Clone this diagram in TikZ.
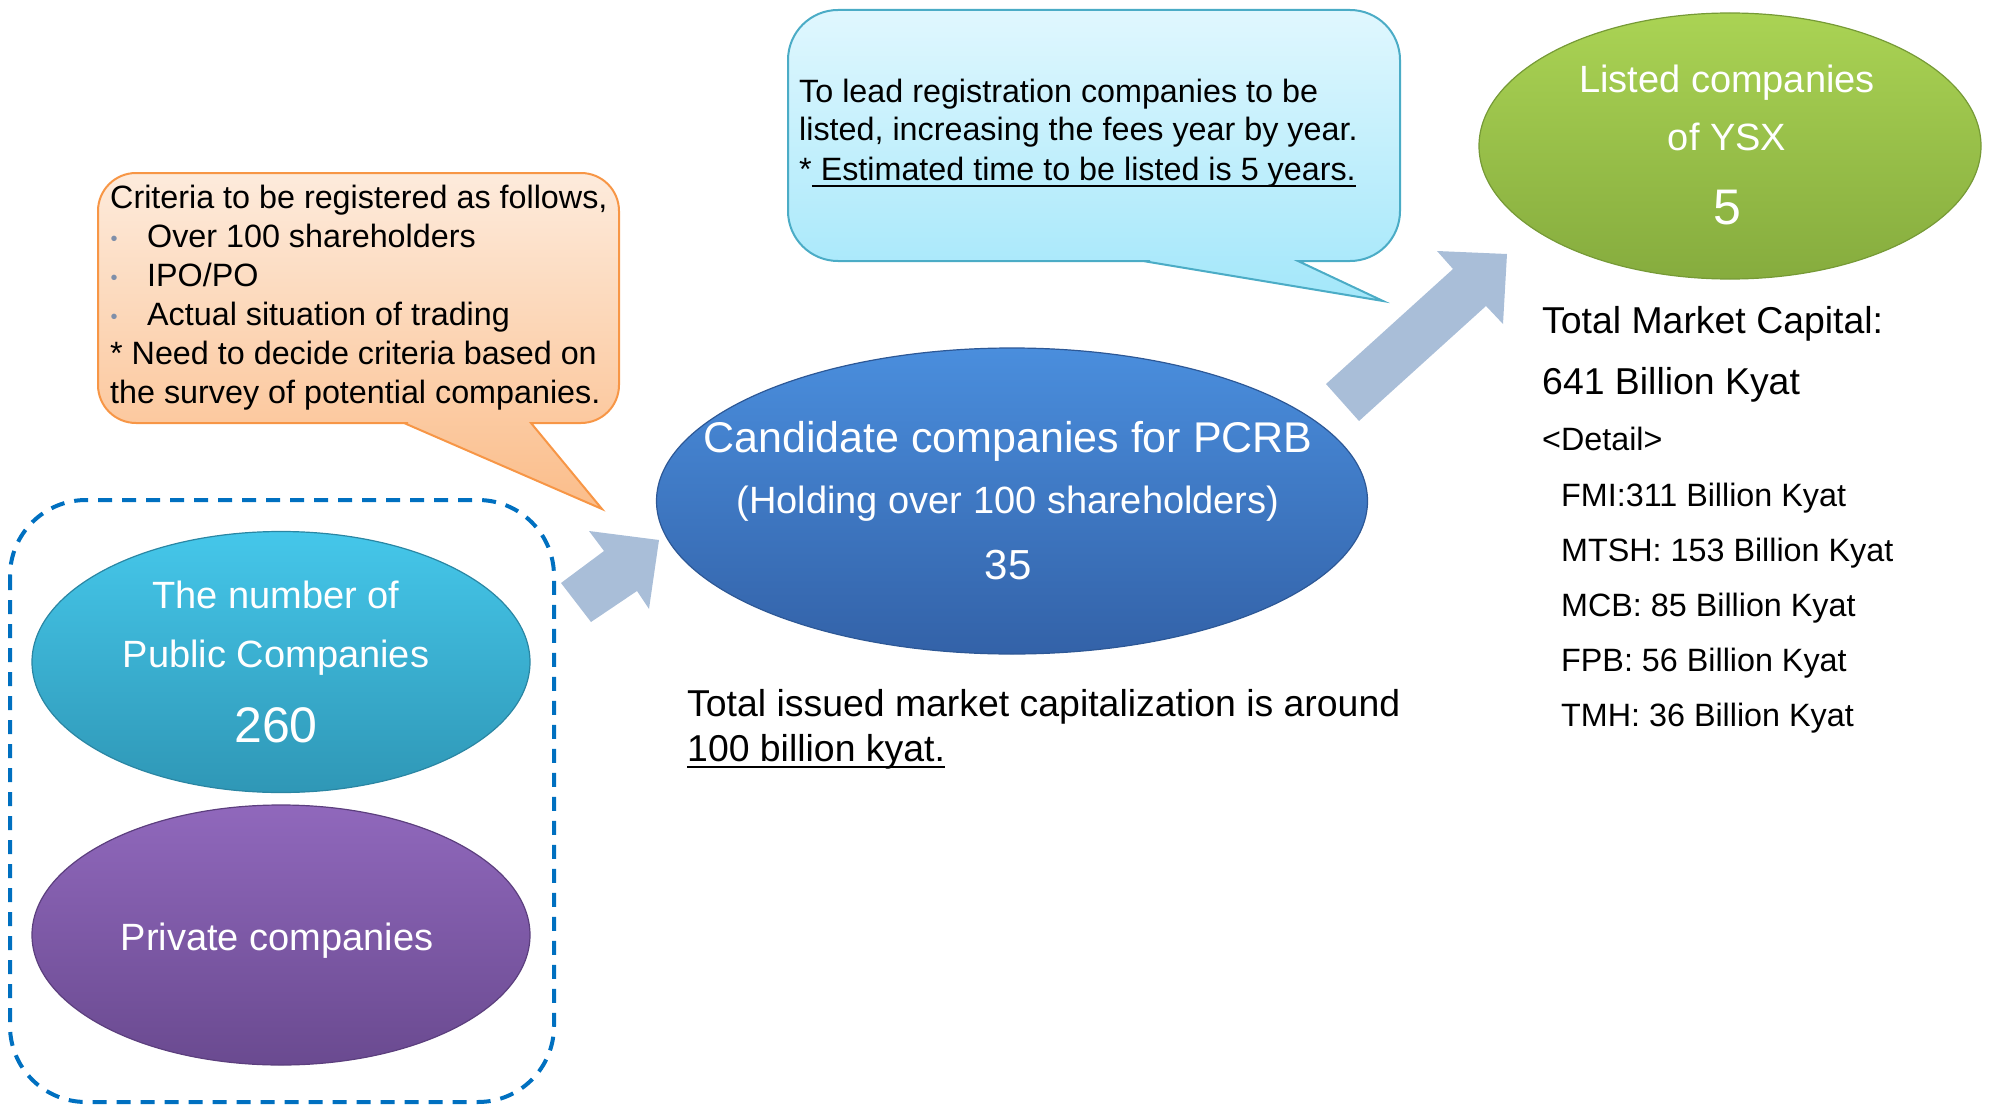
\documentclass[tikz,border=0pt]{standalone}
\usepackage{fontspec}
\setmainfont{Liberation Sans}
\usetikzlibrary{shapes.geometric}
\definecolor{cyanT}{HTML}{45C7EA}
\definecolor{cyanB}{HTML}{2F97B6}
\definecolor{cyanD}{HTML}{2A86A3}
\definecolor{purT}{HTML}{9068BC}
\definecolor{purB}{HTML}{6A4A90}
\definecolor{purD}{HTML}{5C3F7E}
\definecolor{bluT}{HTML}{4A8EDD}
\definecolor{bluB}{HTML}{3362A8}
\definecolor{bluD}{HTML}{2D5896}
\definecolor{grnT}{HTML}{AAD354}
\definecolor{grnB}{HTML}{86AC3E}
\definecolor{grnD}{HTML}{769A36}
\definecolor{orT}{HTML}{FDEBDC}
\definecolor{orB}{HTML}{FBBD8A}
\definecolor{orD}{HTML}{F79646}
\definecolor{lbT}{HTML}{E0F7FE}
\definecolor{lbB}{HTML}{A3E7FA}
\definecolor{lbD}{HTML}{4BACC6}
\definecolor{arrC}{HTML}{A9BED8}
\definecolor{dashC}{HTML}{0070C0}
\definecolor{bulC}{HTML}{7F8FA9}
\newcommand\myul[1]{\sbox0{#1}\rlap{\rule[-7pt]{\wd0}{2.2pt}}\usebox0}
\begin{document}
\begin{tikzpicture}[x=1pt,y=-1pt,
  txt/.style={anchor=base west,inner sep=0pt,font=\fontsize{32.3}{38}\selectfont},
  big/.style={anchor=base west,inner sep=0pt,font=\fontsize{37.4}{44}\selectfont},
  wtxt/.style={anchor=base,inner sep=0pt,text=white,font=\fontsize{38}{44}\selectfont},
  wnum/.style={anchor=base,inner sep=0pt,text=white,font=\fontsize{50}{56}\selectfont},
  oval/.style={ellipse,inner sep=0pt,line width=1.2pt,shading=axis},
  blockarrow/.style={fill=arrC,draw=none},
  bul/.style={anchor=base,inner sep=0pt,text=bulC,font=\fontsize{20}{20}\selectfont}]
\useasboundingbox (0,0) rectangle (1992,1105);

% dashed group box
\draw[dashC,line width=4pt,dash pattern=on 14pt off 10pt,rounded corners=76pt]
  (10,500) rectangle (554,1102);

% block arrows
\fill[blockarrow] (561,583) -- (604,551) -- (589,531) -- (659,540) -- (649,609) -- (637,591) -- (591,622) -- cycle;
\fill[blockarrow] (1326,384) -- (1453,269) -- (1437,251) -- (1507,254) -- (1503,324) -- (1486,306) -- (1359,421) -- cycle;

% ovals
\node[oval,minimum width=498pt,minimum height=261pt,top color=cyanT,bottom color=cyanB,draw=cyanD] (pub) at (281,662) {};
\node[oval,minimum width=498pt,minimum height=260pt,top color=purT,bottom color=purB,draw=purD] (priv) at (281,935) {};
\node[oval,minimum width=711pt,minimum height=306pt,top color=bluT,bottom color=bluB,draw=bluD] (cand) at (1012,501) {};
\node[oval,minimum width=502pt,minimum height=266pt,top color=grnT,bottom color=grnB,draw=grnD] (lst) at (1730,146) {};

% oval texts
\node[wtxt] (pub1) at (276,608) {The number of};
\node[wtxt] (pub2) at (276,667) {Public Companies};
\node[wnum] (pub3) at (276,742) {260};
\node[wtxt] (priv1) at (277,950) {Private companies};
\node[wtxt,font=\fontsize{43}{48}\selectfont] (cand1) at (1008,452) {Candidate companies for PCRB};
\node[wtxt] (cand2) at (1008,513) {(Holding over 100 shareholders)};
\node[wtxt,font=\fontsize{42}{48}\selectfont] (cand3) at (1008,579) {35};
\node[wtxt] (lst1) at (1727,93) {Listed companies};
\node[wtxt] (lst2) at (1727,150) {of YSX};
\node[wnum] (lst3) at (1727,224) {5};

% orange callout
\draw[orD,line width=2pt,shading=axis,top color=orT,bottom color=orB]
  (404,423) -- (602,509) -- (531,423) -- (560,423) [rounded corners=38pt] -- (619,423) -- (619,173) -- (98,173) -- (98,423) -- (370,423) [sharp corners] -- cycle;
\node[txt] (c1) at (110,208) {Criteria to be registered as follows,};
\node[bul] (b1) at (114,245) {•};
\node[txt] (c2) at (147,247) {Over 100 shareholders};
\node[bul] (b2) at (114,284) {•};
\node[txt] (c3) at (147,286) {IPO/PO};
\node[bul] (b3) at (114,323) {•};
\node[txt] (c4) at (147,325) {Actual situation of trading};
\node[txt] (c5) at (110,364) {* Need to decide criteria based on};
\node[txt] (c6) at (110,403) {the survey of potential companies.};

% light blue callout
\draw[lbD,line width=2pt,shading=axis,top color=lbT,bottom color=lbB]
  (1143,261) -- (1383,301) -- (1298,261) -- (1320,261) [rounded corners=50pt] -- (1400,261) -- (1400,10) -- (788,10) -- (788,261) -- (1100,261) [sharp corners] -- cycle;
\node[txt] (t1) at (799,103) {To lead registration companies to be};
\node[txt] (t2) at (799,141) {listed, increasing the fees year by year.};
\node[txt] (t3) at (799,180) {*\myul{\ Estimated time to be listed is 5 years.}};

% text under candidate oval
\node[big] (tot1) at (687,716) {Total issued market capitalization is around};
\node[big] (tot2) at (687,761) {\myul{100 billion kyat.}};

% right text
\node[big] (m1) at (1542,333) {Total Market Capital:};
\node[big] (m2) at (1542,394) {641 Billion Kyat};
\node[txt] (d0) at (1542,450) {<Detail>};
\node[txt] (d1) at (1561,506) {FMI:311 Billion Kyat};
\node[txt] (d2) at (1561,561) {MTSH: 153 Billion Kyat};
\node[txt] (d3) at (1561,616) {MCB: 85 Billion Kyat};
\node[txt] (d4) at (1561,671) {FPB: 56 Billion Kyat};
\node[txt] (d5) at (1561,726) {TMH: 36 Billion Kyat};
\end{tikzpicture}
\end{document}
